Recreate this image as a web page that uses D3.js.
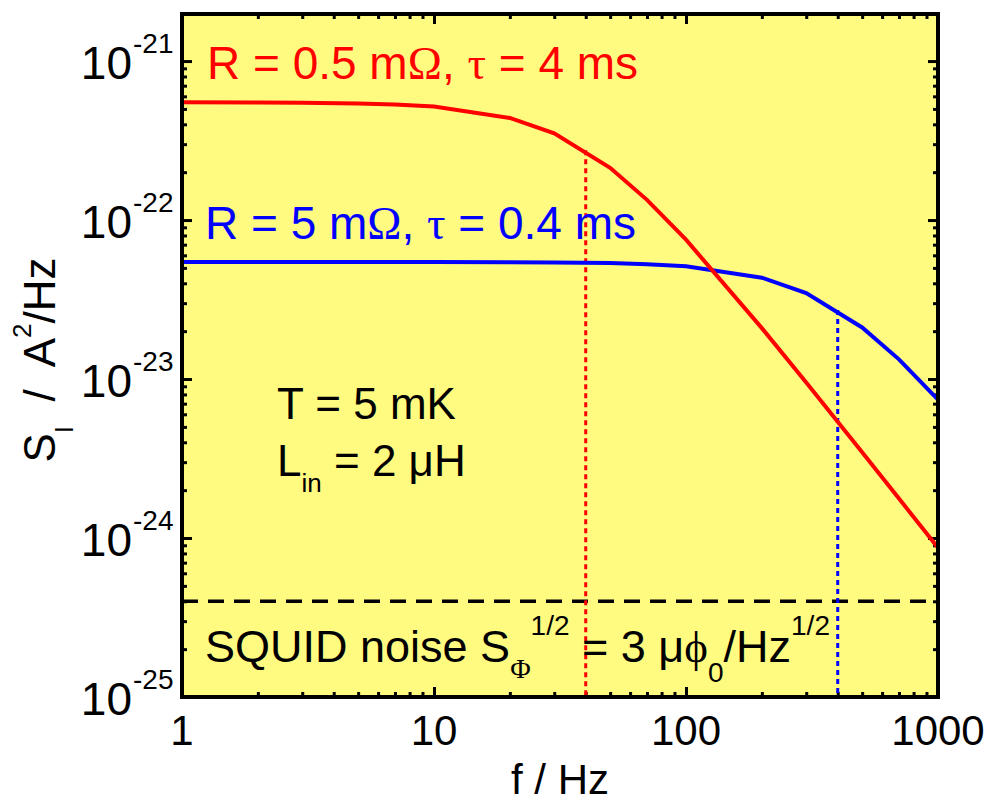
<!DOCTYPE html>
<html><head><meta charset="utf-8">
<script src="https://cdn.jsdelivr.net/npm/d3@7"></script>
<style>body{margin:0;background:#fff}text{font-family:"Liberation Sans",Arial,sans-serif;white-space:pre}</style>
</head><body>
<svg id="c" width="994" height="803"></svg>
<script>
// data
const freq = [1,2,3,5,7,10,20,30,50,70,100,200,300,500,700,1000];
const redS = [5.50e-22,5.49e-22,5.47e-22,5.41e-22,5.33e-22,5.17e-22,4.39e-22,3.51e-22,2.13e-22,1.34e-22,7.52e-23,2.09e-23,9.51e-24,3.46e-24,1.77e-24,8.69e-25];
const blueS = [5.44e-23,5.44e-23,5.44e-23,5.44e-23,5.44e-23,5.44e-23,5.43e-23,5.41e-23,5.36e-23,5.28e-23,5.12e-23,4.34e-23,3.47e-23,2.11e-23,1.33e-23,7.43e-24];
const cornerF = [40, 400];
const cornerS = [2.75e-22, 2.72e-23];
const cornerColors = ["#ff0000", "#0000ff"];
const squidLevel = 4e-25;
const xTickLabels = ["1","10","100","1000"];
const xTickValues = [1,10,100,1000];
const yTickExps = [-21,-22,-23,-24,-25];

const svg = d3.select("#c");
const L=182, R=938, T=14, B=697;
const x = d3.scaleLog().domain([1,1000]).range([L,R]);
const y = d3.scaleLog().domain([1e-25, Math.pow(10,-20.704)]).range([B,T]);

svg.append("rect").attr("x",L).attr("y",T).attr("width",R-L).attr("height",B-T).attr("fill","#fffb80");

// minor/major ticks
const xt = [], yt = [];
for (let d=1; d<=100; d*=10) for (let m=1;m<=9;m++) xt.push({v:d*m, major:m===1});
xt.push({v:1000, major:true});
for (let e=-25; e<=-21; e++) for (let m=1;m<=9;m++){ const v=m*Math.pow(10,e); if (v<=y.domain()[1]) yt.push({v, major:m===1}); }

const bottomAxis = d3.axisBottom(x).tickValues(xt.map(d=>d.v)).tickFormat("").tickSizeOuter(0);
const topAxis = d3.axisTop(x).tickValues(xt.map(d=>d.v)).tickFormat("").tickSizeOuter(0);
const leftAxis = d3.axisLeft(y).tickValues(yt.map(d=>d.v)).tickFormat("").tickSizeOuter(0);
const rightAxis = d3.axisRight(y).tickValues(yt.map(d=>d.v)).tickFormat("").tickSizeOuter(0);
function styleAxis(g, ticks, dir){
  g.select(".domain").remove();
  g.selectAll(".tick line").each(function(d,i){
    const len = ticks[i].major ? 10 : 5;
    const s = d3.select(this).attr("stroke","#000").attr("stroke-width",3);
    if (dir==="b") s.attr("y2",-len);
    if (dir==="t") s.attr("y2",len);
    if (dir==="l") s.attr("x2",len);
    if (dir==="r") s.attr("x2",-len);
  });
}
svg.append("g").attr("transform",`translate(0,${B})`).call(bottomAxis).call(g=>styleAxis(g,xt,"b"));
svg.append("g").attr("transform",`translate(0,${T})`).call(topAxis).call(g=>styleAxis(g,xt,"t"));
svg.append("g").attr("transform",`translate(${L},0)`).call(leftAxis).call(g=>styleAxis(g,yt,"l"));
svg.append("g").attr("transform",`translate(${R},0)`).call(rightAxis).call(g=>styleAxis(g,yt,"r"));

// SQUID dashed level
svg.append("line").attr("x1",L).attr("x2",R).attr("y1",y(squidLevel)).attr("y2",y(squidLevel))
  .attr("stroke","#000").attr("stroke-width",3.5).attr("stroke-dasharray","16,10");

// corner dotted lines
cornerF.forEach((f,i)=>{
  svg.append("line").attr("x1",x(f)).attr("x2",x(f)).attr("y1",y(cornerS[i])).attr("y2",B)
    .attr("stroke",cornerColors[i]).attr("stroke-width",3).attr("stroke-dasharray","5,4");
});

// curves
const line = d3.line().x(d=>x(d[0])).y(d=>y(d[1]));
svg.append("path").datum(freq.map((f,i)=>[f,blueS[i]])).attr("d",line).attr("fill","none").attr("stroke","#0000ff").attr("stroke-width",4);
svg.append("path").datum(freq.map((f,i)=>[f,redS[i]])).attr("d",line).attr("fill","none").attr("stroke","#ff0000").attr("stroke-width",4);

// frame
svg.append("rect").attr("x",L).attr("y",T).attr("width",R-L).attr("height",B-T).attr("fill","none").attr("stroke","#000").attr("stroke-width",4);

// x tick labels
xTickValues.forEach((v,i)=>{
  svg.append("text").attr("x",x(v)).attr("y",745).attr("text-anchor","middle").attr("font-size",42).text(xTickLabels[i]);
});
// y tick labels
yTickExps.forEach(e=>{
  const yy = y(Math.pow(10,e));
  svg.append("text").attr("x",132).attr("y",yy+18).attr("text-anchor","end").attr("font-size",46).text("10");
  svg.append("text").attr("x",133).attr("y",yy-8).attr("text-anchor","start").attr("font-size",28).text(String(e));
});

// axis titles
svg.append("text").attr("x",560).attr("y",794).attr("text-anchor","middle").attr("font-size",42).text("f / Hz");
const yt2 = svg.append("text").attr("transform","translate(55,360) rotate(-90)").attr("text-anchor","middle").attr("font-size",44);
yt2.append("tspan").text("S");
yt2.append("tspan").attr("font-size",26).attr("dy",18).text("I");
yt2.append("tspan").attr("dy",-18).text("  /  A");
yt2.append("tspan").attr("font-size",26).attr("dy",-24).text("2");
yt2.append("tspan").attr("dy",24).text("/Hz");

// annotations
const serif = "Liberation Serif, Times New Roman, serif";
const t1 = svg.append("text").attr("x",207).attr("y",79).attr("font-size",46).attr("fill","#ff0000");
t1.append("tspan").text("R = 0.5 m");
t1.append("tspan").style("font-family",serif).text("Ω");
t1.append("tspan").text(", ");
t1.append("tspan").style("font-family",serif).text("τ");
t1.append("tspan").text(" = 4 ms");

const t2 = svg.append("text").attr("x",205).attr("y",239).attr("font-size",46).attr("fill","#0000ff");
t2.append("tspan").text("R = 5 m");
t2.append("tspan").style("font-family",serif).text("Ω");
t2.append("tspan").text(", ");
t2.append("tspan").style("font-family",serif).text("τ");
t2.append("tspan").text(" = 0.4 ms");

svg.append("text").attr("x",277).attr("y",419).attr("font-size",44).text("T = 5 mK");
const t3 = svg.append("text").attr("x",277).attr("y",476).attr("font-size",44);
t3.append("tspan").text("L");
t3.append("tspan").attr("font-size",26).attr("dy",16).text("in");
t3.append("tspan").attr("dy",-16).text(" = 2 μH");

const t4 = svg.append("text").attr("x",205).attr("y",662).attr("font-size",45);
t4.append("tspan").text("SQUID noise S");
t4.append("tspan").attr("font-size",28).attr("dy",16).style("font-family",serif).text("Φ");
t4.append("tspan").attr("font-size",28).attr("dy",-43).text("1/2");
t4.append("tspan").attr("dy",27).text(" = 3 μ");
t4.append("tspan").style("font-family",serif).text("ϕ");
t4.append("tspan").attr("font-size",28).attr("dy",20).text("0");
t4.append("tspan").attr("dy",-20).text("/Hz");
t4.append("tspan").attr("font-size",28).attr("dy",-27).text("1/2");
</script>
</body></html>
